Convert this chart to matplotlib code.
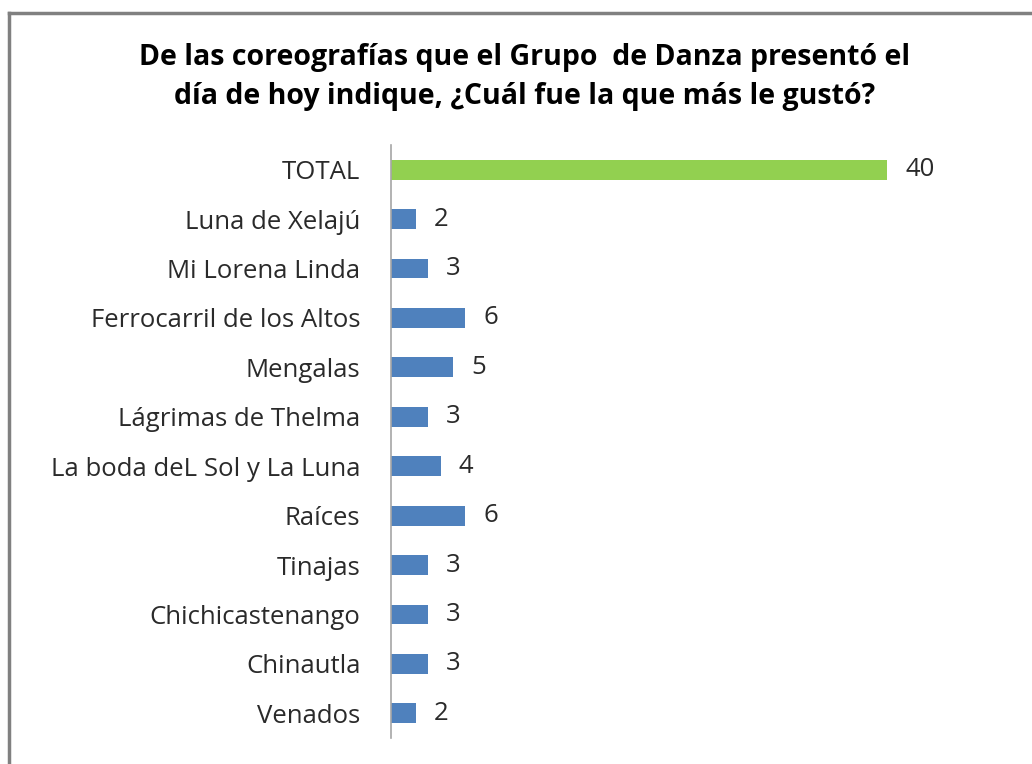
import matplotlib
matplotlib.use("Agg")
import matplotlib.pyplot as plt

categories = ["TOTAL", "Luna de Xelajú", "Mi Lorena Linda", "Ferrocarril de los Altos",
              "Mengalas", "Lágrimas de Thelma", "La boda deL Sol y La Luna", "Raíces",
              "Tinajas", "Chichicastenango", "Chinautla", "Venados"]
values = [40, 2, 3, 6, 5, 3, 4, 6, 3, 3, 3, 2]
colors = ["#92D050"] + ["#4F81BD"] * 11
title = "De las coreografías que el Grupo  de Danza presentó el\ndía de hoy indique, ¿Cuál fue la que más le gustó?"

W, H = 1032, 764
fig = plt.figure(figsize=(W / 100, H / 100), dpi=100)
fig.patch.set_facecolor("white")

# frame lines (left and top only visible)
fig.add_artist(plt.Line2D([9 / W, 9 / W], [0, 1 - 13 / H], color="#808080", lw=2.5, transform=fig.transFigure))
fig.add_artist(plt.Line2D([9 / W, 1], [1 - 13 / H, 1 - 13 / H], color="#808080", lw=2.5, transform=fig.transFigure))

xmax = 45
left = 391 / W
width = xmax * 12.4 / W
top = 1 - 145 / H
bottom = 1 - 738 / H
ax = fig.add_axes([left, bottom, width, top - bottom])

n = len(categories)
ypos = list(range(n))
ax.barh(ypos, values, height=0.4, color=colors)
ax.set_ylim(n - 0.5, -0.5)
ax.set_xlim(0, xmax)
ax.set_yticks(ypos)
ax.set_yticklabels(categories, fontsize=18.5, color="#2a2a2a", family="Open Sans")
ax.tick_params(axis="y", length=0, pad=22)
ax.set_xticks([])
for s in ["top", "right", "bottom"]:
    ax.spines[s].set_visible(False)
ax.spines["left"].set_color("#A6A6A6")
ax.spines["left"].set_linewidth(1.2)

for y, v in zip(ypos, values):
    ax.annotate(str(v), (v, y), xytext=(13, 0), textcoords="offset points",
                va="center", ha="left", fontsize=18.5, color="#2a2a2a", family="Open Sans")

fig.text(525 / W, 1 - 77 / H, title, ha="center", va="center", fontsize=20.5,
         fontweight="bold", family="Open Sans", color="black", linespacing=1.45)

fig.savefig("out.png", dpi=100, facecolor="white")
